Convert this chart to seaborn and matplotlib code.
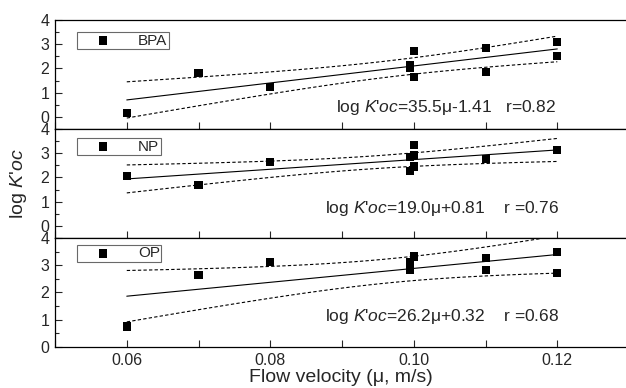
import numpy as np
import seaborn as sns
import matplotlib.pyplot as plt
from matplotlib.ticker import MultipleLocator

# Values (flow velocity, log K'oc)
bpa_x = [0.06, 0.07, 0.08, 0.0995, 0.0995, 0.10, 0.10, 0.11, 0.11, 0.12, 0.12]
bpa_y = [0.16, 1.81, 1.24, 2.15, 2.00, 2.72, 1.66, 2.85, 1.85, 3.09, 2.52]

np_x = [0.06, 0.07, 0.08, 0.0995, 0.0995, 0.10, 0.10, 0.10, 0.11, 0.12]
np_y = [2.07, 1.70, 2.64, 2.86, 2.27, 3.34, 2.93, 2.45, 2.75, 3.13]

op_x = [0.06, 0.07, 0.08, 0.0995, 0.0995, 0.10, 0.11, 0.11, 0.12, 0.12]
op_y = [0.75, 2.64, 3.12, 3.12, 2.82, 3.32, 3.25, 2.83, 3.49, 2.70]

names = ["BPA", "NP", "OP"]
equations = ["log $K$'$oc$=35.5μ-1.41   r=0.82",
             "log $K$'$oc$=19.0μ+0.81    r =0.76",
             "log $K$'$oc$=26.2μ+0.32    r =0.68"]

# t(0.975, df) for the 95% confidence band
t_table = {8: 2.306, 9: 2.262, 10: 2.228, 11: 2.201}


'''
Linear fit with 95% confidence band of the mean.
'''
def fit_band(x, y):
    x = np.asarray(x)
    y = np.asarray(y)
    slope, intercept = np.polyfit(x, y, 1)
    xs = np.linspace(x.min(), x.max(), 80)
    fit = slope * xs + intercept
    n = len(x)
    resid = y - (slope * x + intercept)
    s = np.sqrt(np.sum(resid ** 2) / (n - 2))
    sxx = np.sum((x - x.mean()) ** 2)
    half = t_table[n - 2] * s * np.sqrt(1 / n + (xs - x.mean()) ** 2 / sxx)
    return xs, fit, fit - half, fit + half


sns.set_style("ticks")
plt.rcParams['font.family'] = ['Liberation Sans', 'DejaVu Sans']
plt.rcParams['mathtext.fontset'] = 'custom'
plt.rcParams['mathtext.it'] = 'Liberation Sans:italic'
plt.rcParams['mathtext.rm'] = 'Liberation Sans'
plt.rcParams['xtick.direction'] = 'in'
plt.rcParams['ytick.direction'] = 'in'

fig = plt.figure(figsize=(6.26, 3.88), dpi=100)

panels = [(bpa_x, bpa_y), (np_x, np_y), (op_x, op_y)]
bottoms = [0.6675, 0.3866, 0.1057]
ylims = [(-0.5, 4), (-0.5, 4), (0, 4)]
leg_y = [0.89, 0.917, 0.936]
txt_pos = [(0.49, 0.20), (0.47, 0.275), (0.47, 0.284)]

for i, (x, y) in enumerate(panels):
    ax = fig.add_axes([0.0879, bottoms[i], 0.917, 0.281])

    xs, fit, low, up = fit_band(x, y)
    ax.plot(xs, fit, color='black', lw=0.8)
    ax.plot(xs, low, color='black', lw=0.8, ls=(0, (3, 2)))
    ax.plot(xs, up, color='black', lw=0.8, ls=(0, (3, 2)))

    sns.scatterplot(x=x, y=y, ax=ax, marker='s', color='black', s=34,
                    edgecolor='none', label=names[i], zorder=3)

    ax.set_xlim(0.05, 0.13)
    ax.set_ylim(*ylims[i])
    ax.xaxis.set_major_locator(MultipleLocator(0.02))
    ax.xaxis.set_minor_locator(MultipleLocator(0.01))
    ax.yaxis.set_major_locator(MultipleLocator(1))
    ax.yaxis.set_minor_locator(MultipleLocator(0.5))
    ax.tick_params(axis='x', which='both', length=5, width=0.8, labelsize=11.5, pad=4)
    ax.tick_params(axis='y', which='major', length=5, width=0.8, labelsize=11.5, pad=4)
    ax.tick_params(axis='y', which='minor', length=3, width=0.8)
    if i < 2:
        ax.tick_params(axis='x', labelbottom=False)
    else:
        ax.xaxis.set_major_formatter(lambda v, p: f"{v:.2f}")

    for side in ['top', 'left', 'bottom']:
        ax.spines[side].set_linewidth(0.9)
        ax.spines[side].set_color('black')
    ax.spines['right'].set_visible(False)

    leg = ax.legend(loc='upper left', bbox_to_anchor=(0.038, leg_y[i]),
                    frameon=True, fancybox=False, fontsize=11,
                    handlelength=3.2, handletextpad=0.7, borderpad=0.1,
                    borderaxespad=0)
    leg.get_frame().set_edgecolor('#444444')
    leg.get_frame().set_linewidth(0.8)

    ax.text(txt_pos[i][0], txt_pos[i][1], equations[i], transform=ax.transAxes,
            fontsize=12.5, va='center', ha='left')

fig.text(0.545, 0.028, "Flow velocity (μ, m/s)", ha='center', va='center', fontsize=14)
fig.text(0.029, 0.526, "log $K$'$oc$", rotation=90, ha='center', va='center', fontsize=14)

fig.savefig("out.png", dpi=100)
